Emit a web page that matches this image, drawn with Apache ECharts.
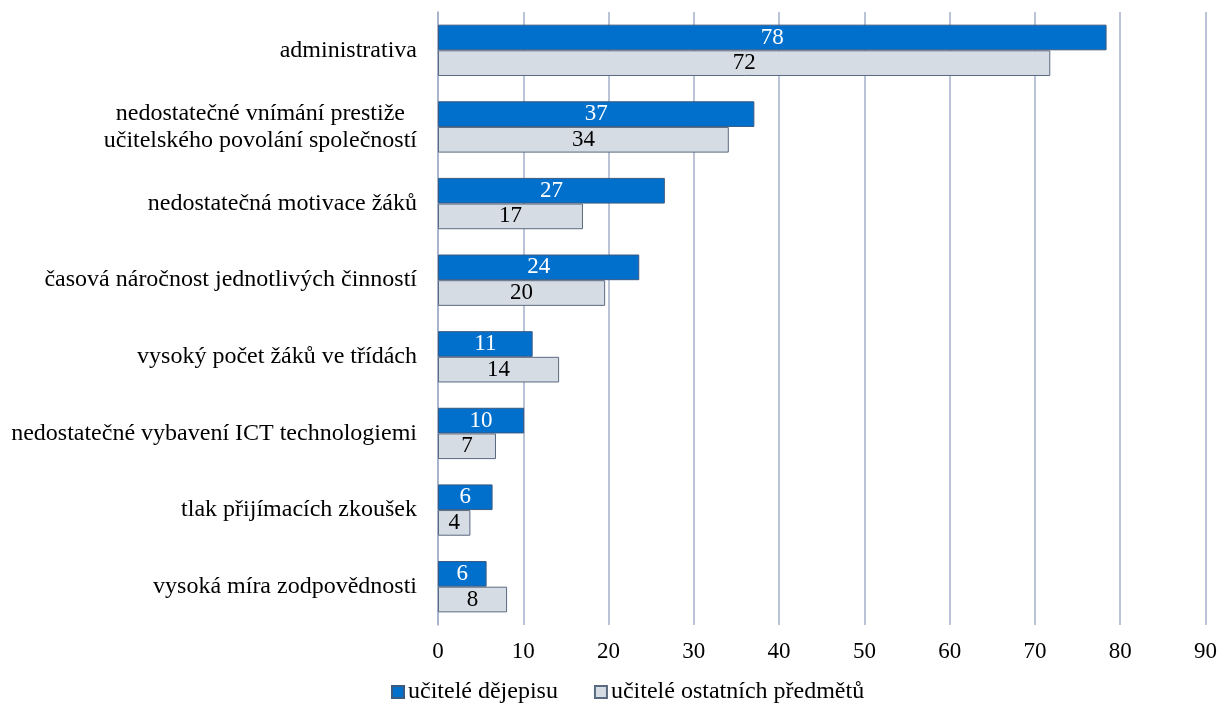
<!DOCTYPE html>
<html><head><meta charset="utf-8">
<script src="https://cdn.jsdelivr.net/npm/echarts@6/dist/echarts.min.js"></script>
<style>html,body{margin:0;padding:0;background:#fff}#c{width:1220px;height:712px}</style>
</head><body><div id="c"></div>
<script>
const categories = [
  'administrativa',
  'nedostatečné vnímání prestiže\nučitelského povolání společností',
  'nedostatečná motivace žáků',
  'časová náročnost jednotlivých činností',
  'vysoký počet žáků ve třídách',
  'nedostatečné vybavení ICT technologiemi',
  'tlak přijímacích zkoušek',
  'vysoká míra zodpovědnosti'
];
const seriesNames = ['učitelé dějepisu', 'učitelé ostatních předmětů'];
const historyTeachers = [78.4, 37.1, 26.6, 23.6, 11.1, 10.1, 6.4, 5.7];
const otherTeachers = [71.8, 34.1, 17.0, 19.6, 14.2, 6.8, 3.8, 8.1];
const xTicks = [0, 10, 20, 30, 40, 50, 60, 70, 80, 90];

const FONT = '"Liberation Serif", "Times New Roman", serif';
const chart = echarts.init(document.getElementById('c'));
chart.setOption({
  animation: false,
  textStyle: { fontFamily: FONT },
  grid: { left: 438, right: 12, top: 12, bottom: 87, containLabel: false },
  legend: {
    left: 386, top: 675,
    itemWidth: 12, itemHeight: 12, itemGap: 36,
    icon: 'rect',
    textStyle: { fontFamily: FONT, fontSize: 24, color: '#000', padding: [0, 0, 0, -1] },
    data: seriesNames
  },
  xAxis: {
    type: 'value', min: xTicks[0], max: xTicks[xTicks.length - 1], interval: 10,
    axisLine: { show: false }, axisTick: { show: false },
    splitLine: { show: true, lineStyle: { color: '#A3B0C8', width: 1.5 } },
    axisLabel: { fontFamily: FONT, fontSize: 23, color: '#000', margin: 15 }
  },
  yAxis: {
    type: 'category', data: categories, inverse: true,
    axisLine: { show: true, lineStyle: { color: '#A3B0C8', width: 1.5 } },
    axisTick: { show: false },
    axisLabel: {
      fontFamily: FONT, fontSize: 24, color: '#000', margin: 21, lineHeight: 27,
      formatter: function (v) {
        const lines = v.split('\n');
        if (lines.length > 1) return lines[0] + '\u00a0\u00a0\n' + lines[1];
        return v;
      }
    }
  },
  series: [
    {
      name: seriesNames[0], type: 'bar', data: historyTeachers,
      barGap: '0%', barCategoryGap: '33%',
      itemStyle: { color: '#0070CC', borderColor: '#3A5A80', borderWidth: 1 },
      label: { show: true, position: 'inside', fontFamily: FONT, fontSize: 23, color: '#fff',
        formatter: p => Math.round(p.value) }
    },
    {
      name: seriesNames[1], type: 'bar', data: otherTeachers,
      barGap: '0%', barCategoryGap: '33%',
      itemStyle: { color: '#D6DCE4', borderColor: '#5A6A80', borderWidth: 1 },
      label: { show: true, position: 'inside', fontFamily: FONT, fontSize: 23, color: '#000',
        formatter: p => Math.round(p.value) }
    }
  ]
});
</script></body></html>
